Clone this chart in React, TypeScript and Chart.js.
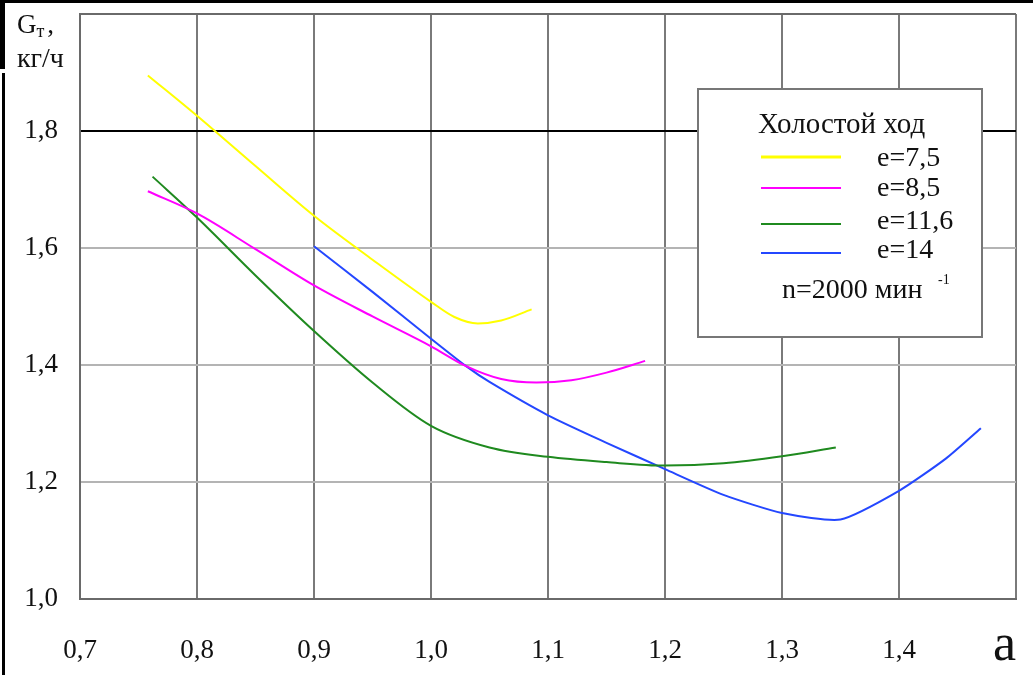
import React, { useEffect, useRef } from "react";
import { Chart, registerables } from "chart.js";

Chart.register(...registerables);

// ---- data ----
const xTicks = [0.7, 0.8, 0.9, 1.0, 1.1, 1.2, 1.3, 1.4];
const yTicks = [1.0, 1.2, 1.4, 1.6, 1.8];

const seriesNames = ["e=7,5", "e=8,5", "e=11,6", "e=14"];

const x75 = [0.758, 0.8, 0.85, 0.9, 0.95, 1.0, 1.02, 1.04, 1.06, 1.086];
const y75 = [1.895, 1.826, 1.74, 1.655, 1.58, 1.508, 1.482, 1.471, 1.476, 1.495];

const x85 = [0.758, 0.8, 0.85, 0.9, 0.95, 1.0, 1.03, 1.06, 1.09, 1.12, 1.15, 1.183];
const y85 = [1.697, 1.659, 1.598, 1.536, 1.483, 1.432, 1.398, 1.376, 1.37, 1.374, 1.387, 1.407];

const x116 = [0.762, 0.8, 0.85, 0.9, 0.95, 1.0, 1.05, 1.1, 1.15, 1.2, 1.25, 1.3, 1.346];
const y116 = [1.722, 1.652, 1.553, 1.458, 1.37, 1.296, 1.259, 1.243, 1.234, 1.228, 1.232, 1.244, 1.259];

const x14 = [0.9, 0.95, 1.0, 1.03, 1.05, 1.1, 1.15, 1.2, 1.25, 1.3, 1.35, 1.4, 1.44, 1.47];
const y14 = [1.603, 1.525, 1.445, 1.398, 1.371, 1.314, 1.267, 1.222, 1.178, 1.147, 1.136, 1.185, 1.24, 1.292];

const colors = ["#ffff00", "#ff00ff", "#1f8a1f", "#2447ff"];
const legendWidths = [3, 2, 2, 2];

const legendTitle = "Холостой ход";
const legendNote = "n=2000 мин";
const legendNoteSup = "-1";
const yTitleMain = "G";
const yTitleSub = "т";
const yTitleUnit = "кг/ч";
const xTitle = "a";

const toPts = (xs: number[], ys: number[]) => xs.map((x, i) => ({ x, y: ys[i] }));
const fmt = (v: number) => (Math.round(v * 10) / 10).toFixed(1).replace(".", ",");

const SERIF = "'Liberation Serif', 'DejaVu Serif', serif";

const decorPlugin = {
  id: "decor",
  beforeDraw(chart: any) {
    const c = chart.ctx;
    c.save();
    c.fillStyle = "#ffffff";
    c.fillRect(0, 0, chart.width, chart.height);
    c.fillStyle = "#000000";
    c.fillRect(0, 0, chart.width, 3);
    c.fillRect(0, 0, 5, 69);
    c.fillRect(2, 73, 3, chart.height - 73);
    c.restore();
  },
  afterDatasetsDraw(chart: any) {
    const c = chart.ctx;
    c.save();
    // legend box
    const bx = 698, by = 89, bw = 284, bh = 248;
    c.fillStyle = "#ffffff";
    c.fillRect(bx, by, bw, bh);
    c.strokeStyle = "#777777";
    c.lineWidth = 2;
    c.strokeRect(bx, by, bw, bh);
    c.fillStyle = "#111111";
    c.textBaseline = "alphabetic";
    c.textAlign = "left";
    c.font = `29px ${SERIF}`;
    c.fillText(legendTitle, 758, 133);
    const lineYs = [157, 188, 224, 253];
    const textYs = [166, 196, 229, 258];
    seriesNames.forEach((name, i) => {
      c.strokeStyle = colors[i];
      c.lineWidth = legendWidths[i];
      c.beginPath();
      c.moveTo(761, lineYs[i]);
      c.lineTo(841, lineYs[i]);
      c.stroke();
      c.fillStyle = "#111111";
      c.font = `28px ${SERIF}`;
      c.fillText(name, 877, textYs[i]);
    });
    c.font = `28px ${SERIF}`;
    c.fillText(legendNote, 782, 298);
    c.font = `14px ${SERIF}`;
    c.fillText(legendNoteSup, 938, 284);

    // axis titles
    c.fillStyle = "#111111";
    c.font = `27px ${SERIF}`;
    c.fillText(yTitleMain, 17, 33);
    const gw = c.measureText(yTitleMain).width;
    c.font = `18px ${SERIF}`;
    c.fillText(yTitleSub, 17 + gw, 37);
    const tw = c.measureText(yTitleSub).width;
    c.font = `27px ${SERIF}`;
    c.fillText(",", 17 + gw + tw + 3, 33);
    c.font = `28px ${SERIF}`;
    c.fillText(yTitleUnit, 17, 67);
    c.font = `52px ${SERIF}`;
    c.fillText(xTitle, 993, 660);
    c.restore();
  },
};

export default function App() {
  const ref = useRef<HTMLCanvasElement | null>(null);
  useEffect(() => {
    if (!ref.current) return;
    const data = [toPts(x75, y75), toPts(x85, y85), toPts(x116, y116), toPts(x14, y14)];
    const chart = new Chart(ref.current, {
      type: "line",
      data: {
        datasets: data.map((d, i) => ({
          label: seriesNames[i],
          data: d,
          borderColor: colors[i],
          backgroundColor: colors[i],
          borderWidth: 2,
          pointRadius: 0,
          fill: false,
          cubicInterpolationMode: i === 3 ? ("default" as const) : ("monotone" as const),
          tension: i === 3 ? 0.2 : 0.4,
        })),
      },
      options: {
        animation: false,
        responsive: false,
        parsing: false as any,
        layout: { padding: { top: 14, right: 17, left: 0, bottom: 0 } },
        plugins: { legend: { display: false }, tooltip: { enabled: false } },
        scales: {
          x: {
            type: "linear",
            min: 0.7,
            max: 1.5,
            afterBuildTicks: (s: any) => {
              s.ticks = [...xTicks, 1.5].map((v) => ({ value: v }));
            },
            afterFit: (s: any) => {
              s.height = 76;
              s.paddingLeft = 0;
              s.paddingRight = 0;
            },
            ticks: {
              padding: 36,
              color: "#111111",
              font: { family: SERIF, size: 27 },
              callback: (v: any) => (Math.abs(v - 1.5) < 1e-6 ? "" : fmt(v)),
              maxRotation: 0,
            },
            grid: {
              drawTicks: false,
              color: "#7a7a7a",
              lineWidth: 2,
            },
            border: { color: "#6a6a6a", width: 2 },
          },
          y: {
            type: "linear",
            min: 1.0,
            max: 2.0,
            afterBuildTicks: (s: any) => {
              s.ticks = [...yTicks, 2.0].map((v) => ({ value: v }));
            },
            afterFit: (s: any) => {
              s.width = 80;
              s.paddingTop = 0;
              s.paddingBottom = 0;
            },
            ticks: {
              padding: 22,
              color: "#111111",
              font: { family: SERIF, size: 27 },
              callback: (v: any) => (Math.abs(v - 2.0) < 1e-6 ? "" : fmt(v)),
            },
            grid: {
              drawTicks: false,
              lineWidth: 2,
              color: (ctx: any) => {
                const v = ctx.tick ? ctx.tick.value : 0;
                if (Math.abs(v - 1.8) < 1e-6) return "#000000";
                if (Math.abs(v - 2.0) < 1e-6) return "#6a6a6a";
                if (Math.abs(v - 1.0) < 1e-6) return "#6a6a6a";
                return "#b4b4b4";
              },
            },
            border: { color: "#6a6a6a", width: 2 },
          },
        },
      },
      plugins: [decorPlugin],
    });
    return () => chart.destroy();
  }, []);
  return (
    <div style={{ position: "fixed", left: 0, top: 0, width: 1033, height: 675, background: "#fff" }}>
      <canvas ref={ref} width={1033} height={675} style={{ display: "block" }} />
    </div>
  );
}
